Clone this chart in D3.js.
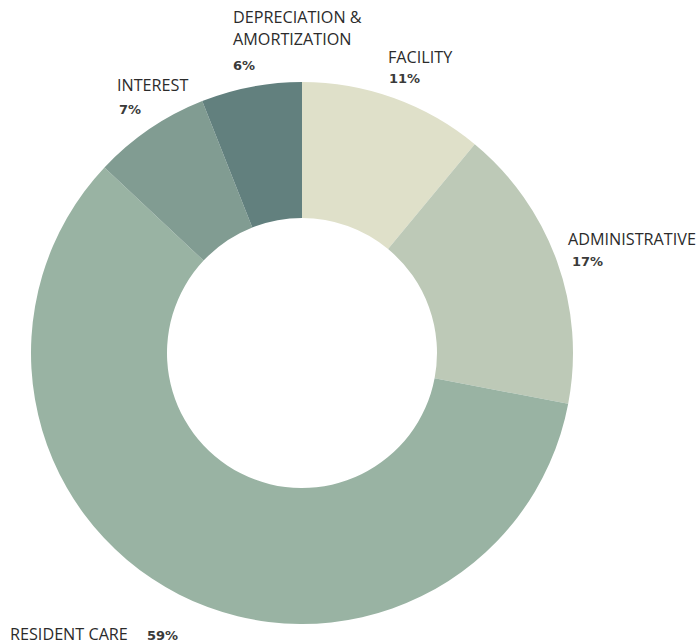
<!DOCTYPE html>
<html>
<head>
<meta charset="utf-8">
<script src="https://cdn.jsdelivr.net/npm/d3@7"></script>
<style>
  html, body { margin: 0; padding: 0; background: #fff; }
  svg { display: block; }
</style>
</head>
<body>
<svg id="chart" width="699" height="644"></svg>
<script>
const categories = ["FACILITY", "ADMINISTRATIVE", "RESIDENT CARE", "INTEREST", "DEPRECIATION & AMORTIZATION"];
const values = [11, 17, 59, 7, 6];
const colors = ["#dfe0c9", "#bdc9b7", "#99b3a3", "#819c92", "#62807e"];

const svg = d3.select("#chart");
const cx = 302, cy = 353, outerR = 271, innerR = 135;

const pie = d3.pie().sort(null).value(d => d.value);
const arc = d3.arc().innerRadius(innerR).outerRadius(outerR);
const data = categories.map((c, i) => ({ name: c, value: values[i], color: colors[i] }));

const g = svg.append("g").attr("transform", `translate(${cx},${cy})`);
g.selectAll("path").data(pie(data)).join("path")
  .attr("d", arc)
  .attr("fill", d => d.data.color);

// label layout (positions only)
const labelPos = [
  { lines: [[388, 63]], pct: [389, 83] },
  { lines: [[568, 245]], pct: [572, 266] },
  { lines: [[10, 640]], pct: [147, 640] },
  { lines: [[117, 91]], pct: [119, 114] },
  { lines: [[233, 23], [233, 45]], pct: [233, 70] }
];
const labelLines = [["FACILITY"], ["ADMINISTRATIVE"], ["RESIDENT CARE"], ["INTEREST"], ["DEPRECIATION &", "AMORTIZATION"]];

data.forEach((d, i) => {
  const p = labelPos[i];
  labelLines[i].forEach((t, j) => {
    svg.append("text")
      .attr("x", p.lines[j][0]).attr("y", p.lines[j][1])
      .attr("font-family", "'Open Sans', sans-serif")
      .attr("font-size", 16.2)
      .attr("fill", "#2b2b2b")
      .text(t);
  });
  svg.append("text")
    .attr("x", p.pct[0]).attr("y", p.pct[1])
    .attr("font-family", "'DejaVu Sans', Verdana, sans-serif")
    .attr("font-weight", "bold")
    .attr("font-size", 13)
    .attr("fill", "#3a3a3a")
    .text(d.value + "%");
});
</script>
</body>
</html>
